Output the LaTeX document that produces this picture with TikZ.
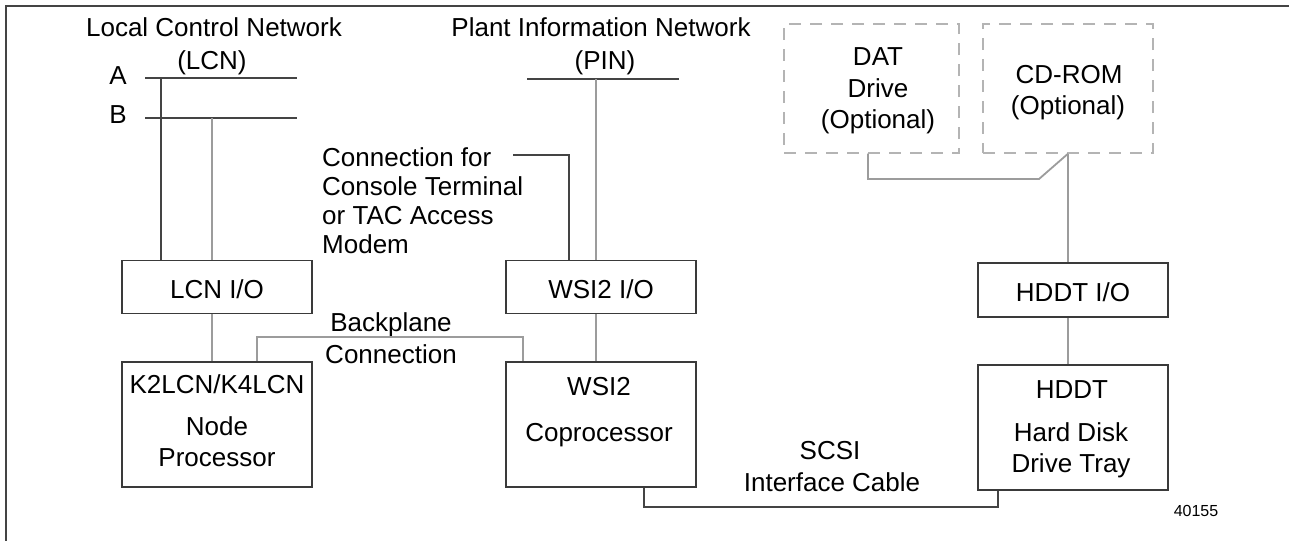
\documentclass[tikz,border=0pt]{standalone}
\usepackage{fontspec}
\setmainfont{Liberation Sans}
\usetikzlibrary{calc}
\definecolor{boxline}{HTML}{3A3A3A}
\definecolor{conngray}{HTML}{9C9C9C}
\definecolor{conndark}{HTML}{444444}
\definecolor{dashgray}{HTML}{B4B4B4}
\tikzset{
  box/.style={draw=boxline, line width=1.6pt, minimum width=190pt, inner sep=0pt},
  optbox/.style={draw=dashgray, line width=1.4pt, dash pattern=on 12pt off 9pt, inner sep=0pt},
  txt/.style={anchor=base, inner sep=0pt, font=\fontsize{26}{30}\selectfont},
  txtl/.style={anchor=base west, inner sep=0pt, font=\fontsize{26}{30}\selectfont},
  small/.style={anchor=base, inner sep=0pt, font=\fontsize{16}{19}\selectfont},
  wireg/.style={draw=conngray, line width=1.8pt},
  wired/.style={draw=conndark, line width=1.3pt},
  frameline/.style={draw=conndark, line width=1.4pt}
}
\begin{document}
\begin{tikzpicture}[x=1pt, y=-1pt]
\useasboundingbox (0,0) rectangle (1289,541);
% frame
\coordinate (fTL) at (6,6);
\coordinate (fTR) at (1289,6);
\coordinate (fBL) at (6,541);
\draw[frameline] (fTR) -- (fTL) -- (fBL);

% boxes
\node[box, minimum height=53pt] (lcnio) at (217,287) {};
\node[box, minimum height=125pt] (k2) at (217,424.5) {};
\node[box, minimum height=53pt] (wsiio) at (601,287) {};
\node[box, minimum height=125pt] (wsi) at (601,424.5) {};
\node[box, minimum height=54pt] (hddtio) at (1073,290) {};
\node[box, minimum height=125pt] (hddt) at (1073,427.5) {};
\node[optbox, minimum width=175pt, minimum height=129pt] (dat) at (871.5,88.5) {};
\node[optbox, minimum width=170pt, minimum height=129pt] (cd) at (1068,88.5) {};

% box texts
\node[txt] (tlcnio) at (217,298) {LCN I/O};
\node[txt] (tk2a) at (217,393) {K2LCN/K4LCN};
\node[txt] (tk2b) at (217,435) {Node};
\node[txt] (tk2c) at (217,466) {Processor};
\node[txt] (twsiio) at (601,298) {WSI2 I/O};
\node[txt] (twsia) at (599,395) {WSI2};
\node[txt] (twsib) at (599,441) {Coprocessor};
\node[txt] (thddtio) at (1073,301) {HDDT I/O};
\node[txt] (thddta) at (1072,398) {HDDT};
\node[txt] (thddtb) at (1071,441) {Hard Disk};
\node[txt] (thddtc) at (1071,472) {Drive Tray};
\node[txt] (tdata) at (878,65) {DAT};
\node[txt] (tdatb) at (878,97) {Drive};
\node[txt] (tdatc) at (878,128) {(Optional)};
\node[txt] (tcda) at (1069,83) {CD-ROM};
\node[txt] (tcdb) at (1068,114) {(Optional)};

% free labels
\node[txt] (tlcn1) at (214,36) {Local Control Network};
\node[txt] (tlcn2) at (212,69) {(LCN)};
\node[txt] (tpin1) at (601,36) {Plant Information Network};
\node[txt] (tpin2) at (605,69) {(PIN)};
\node[txt] (tA) at (118,84) {A};
\node[txt] (tB) at (118,123) {B};
\node[txtl] (tc1) at (322,166) {Connection for};
\node[txtl] (tc2) at (322,195) {Console Terminal};
\node[txtl] (tc3) at (322,224) {or TAC Access};
\node[txtl] (tc4) at (322,253) {Modem};
\node[txt] (tbp1) at (391,331) {Backplane};
\node[txt] (tbp2) at (391,363) {Connection};
\node[txt] (tscsi1) at (830,459) {SCSI};
\node[txt] (tscsi2) at (832,491) {Interface Cable};
\node[small] (tnum) at (1196,516) {40155};

% network buses
\coordinate (Aa) at (145,78);
\coordinate (Ab) at (297,78);
\coordinate (Ba) at (145,118);
\coordinate (Bb) at (297,118);
\coordinate (Pa) at (527,79);
\coordinate (Pb) at (679,79);
\draw[wired] (Aa) -- (Ab);
\draw[wired] (Ba) -- (Bb);
\draw[wired] (Pa) -- (Pb);

% drops
\coordinate (Adrop) at (161,78);
\coordinate (Bdrop) at (212,118);
\coordinate (Pdrop) at (596,79);
\draw[wired] (Adrop) -- (Adrop |- lcnio.north);
\draw[wireg] (Bdrop) -- (Bdrop |- lcnio.north);
\draw[wireg] (Pdrop) -- (Pdrop |- wsiio.north);

% console connection
\coordinate (con0) at (513,155);
\coordinate (con1) at (569,155);
\draw[wired] (con0) -- (con1) -- (con1 |- wsiio.north);

% IO to processors
\draw[wireg] (212,0 |- lcnio.south) -- (212,0 |- k2.north);
\draw[wireg] (596,0 |- wsiio.south) -- (596,0 |- wsi.north);
\draw[wireg] (1068,0 |- hddtio.south) -- (1068,0 |- hddt.north);

% backplane
\coordinate (bpL) at (257,337);
\coordinate (bpR) at (523,337);
\draw[wireg] (bpL |- k2.north) -- (bpL) -- (bpR) -- (bpR |- wsi.north);

% SCSI cable
\coordinate (scL) at (644,507);
\coordinate (scR) at (998,507);
\draw[wired] (scL |- wsi.south) -- (scL) -- (scR) -- (scR |- hddt.south);

% optional drives
\coordinate (datdrop) at (868,179);
\coordinate (datbend) at (1039,179);
\coordinate (cdjoin) at (1068,0 |- cd.south);
\draw[wireg] (datdrop |- dat.south) -- (datdrop) -- (datbend) -- (cdjoin);
\draw[wireg] (cdjoin) -- (cdjoin |- hddtio.north);
\end{tikzpicture}
\end{document}
